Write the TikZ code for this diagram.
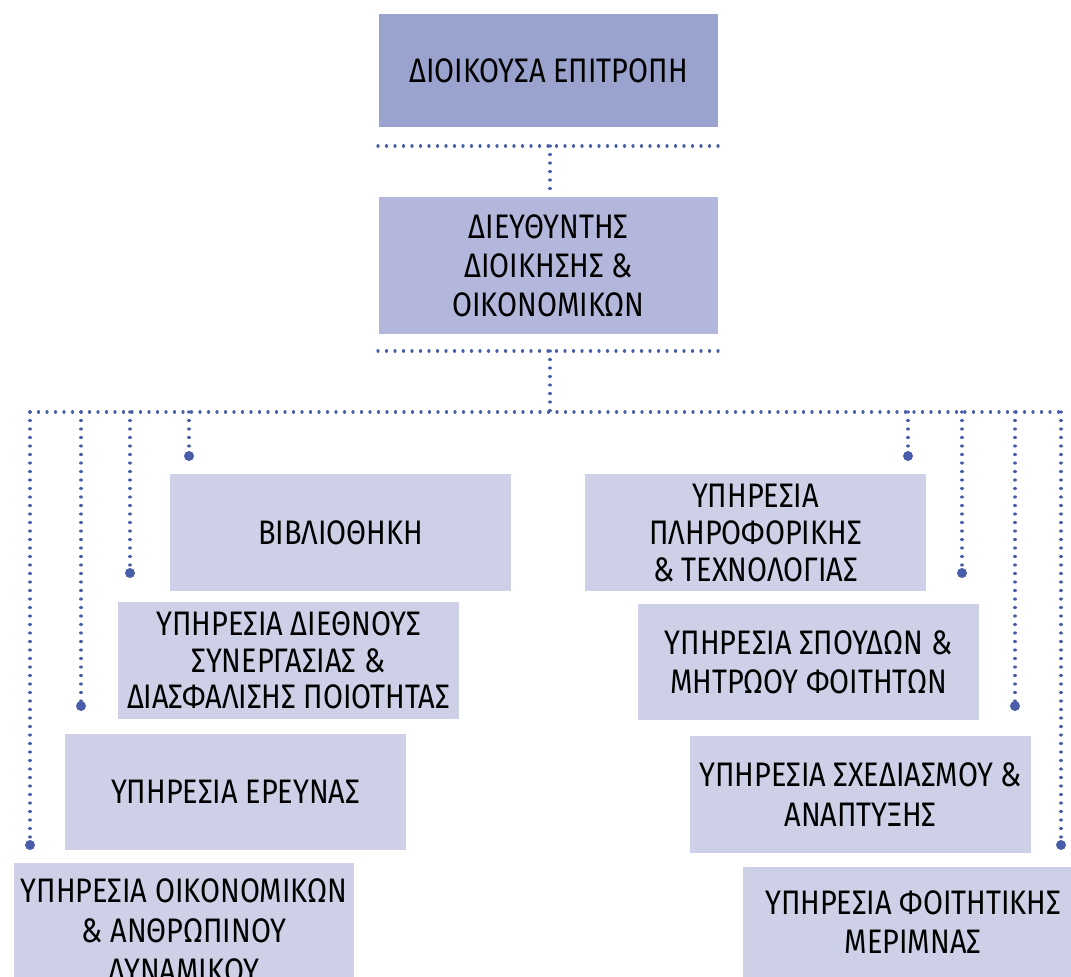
\documentclass[tikz,border=0pt]{standalone}
\usepackage{fontspec}
\setmainfont{Fira Sans}[FakeStretch=0.85]
\definecolor{topc}{HTML}{9AA3CE}
\definecolor{dirc}{HTML}{B3B7DB}
\definecolor{boxc}{HTML}{CDD0E6}
\definecolor{linec}{HTML}{4A5DA8}
\begin{document}
\begin{tikzpicture}[x=1pt,y=-1pt,
  box/.style={rectangle, fill=boxc, inner sep=0pt, align=center, minimum width=341pt,
    minimum height=116pt, font=\fontsize{34}{39}\selectfont, text=black},
  dotline/.style={draw=linec, line width=3.2pt, line cap=round, dash pattern=on 0.01pt off 8.49pt},
  enddot/.style={fill=linec}]
\useasboundingbox (0,0) rectangle (1071,977);
\clip (0,0) rectangle (1071,977);
% boxes
\node[box, fill=topc, minimum width=339pt, minimum height=113pt] (top) at (548.5,70.5) {ΔΙΟΙΚΟΥΣΑ ΕΠΙΤΡΟΠΗ};
\node[box, fill=dirc, minimum width=339pt, minimum height=137pt] (dir) at (548.5,265.5) {ΔΙΕΥΘΥΝΤΗΣ\\ΔΙΟΙΚΗΣΗΣ \&\\ΟΙΚΟΝΟΜΙΚΩΝ};
\node[box, minimum height=117pt] (lib) at (340.5,532.5) {ΒΙΒΛΙΟΘΗΚΗ};
\node[box, minimum height=117pt, font=\fontsize{34}{36.5}\selectfont] (intl) at (288.5,660.5) {ΥΠΗΡΕΣΙΑ ΔΙΕΘΝΟΥΣ\\ΣΥΝΕΡΓΑΣΙΑΣ \&\\ΔΙΑΣΦΑΛΙΣΗΣ ΠΟΙΟΤΗΤΑΣ};
\node[box, minimum height=116pt] (res) at (235.5,792) {ΥΠΗΡΕΣΙΑ ΕΡΕΥΝΑΣ};
\node[box, minimum width=340pt, minimum height=136pt, font=\fontsize{34}{40}\selectfont] (fin) at (184,931) {ΥΠΗΡΕΣΙΑ ΟΙΚΟΝΟΜΙΚΩΝ\\\& ΑΝΘΡΩΠΙΝΟΥ\\ΔΥΝΑΜΙΚΟΥ};
\node[box, minimum height=117pt, font=\fontsize{34}{37}\selectfont] (it) at (755.5,532.5) {ΥΠΗΡΕΣΙΑ\\ΠΛΗΡΟΦΟΡΙΚΗΣ\\\& ΤΕΧΝΟΛΟΓΙΑΣ};
\node[box, minimum height=116pt] (stud) at (808.5,662) {ΥΠΗΡΕΣΙΑ ΣΠΟΥΔΩΝ \&\\ΜΗΤΡΩΟΥ ΦΟΙΤΗΤΩΝ};
\node[box, minimum height=117pt, font=\fontsize{34}{40}\selectfont] (plan) at (860.5,794.5) {ΥΠΗΡΕΣΙΑ ΣΧΕΔΙΑΣΜΟΥ \&\\ΑΝΑΠΤΥΞΗΣ};
\node[box, minimum width=340pt, minimum height=110pt] (welf) at (913,922) {ΥΠΗΡΕΣΙΑ ΦΟΙΤΗΤΙΚΗΣ\\ΜΕΡΙΜΝΑΣ};
% junction coordinates
\coordinate (l1a) at (378,146);
\coordinate (l1b) at (718,146);
\coordinate (j1) at (550,146);
\coordinate (l2a) at (378,351);
\coordinate (l2b) at (718,351);
\coordinate (j2) at (550,351);
\coordinate (j3) at (550,412);
\coordinate (busl) at (30,412);
\coordinate (busr) at (1062,412);
\coordinate (dfin) at (30,845);
\coordinate (dres) at (81,706);
\coordinate (dintl) at (130,573);
\coordinate (dlib) at (189,456);
\coordinate (dit) at (908,456);
\coordinate (dstud) at (962,573);
\coordinate (dplan) at (1015,706);
\coordinate (dwelf) at (1061,845);
% connectors
\draw[dotline] (l1a) -- (l1b);
\draw[dotline] (j1) -- (dir.north -| j1);
\draw[dotline] (l2a) -- (l2b);
\draw[dotline] (j2) -- (j3);
\draw[dotline] (busl) -- (busr);
\foreach \d in {dfin,dres,dintl,dlib,dit,dstud,dplan,dwelf}{
  \draw[dotline] (\d |- busl) -- (\d);
  \fill[enddot] (\d) circle (5pt);
}
\end{tikzpicture}
\end{document}
